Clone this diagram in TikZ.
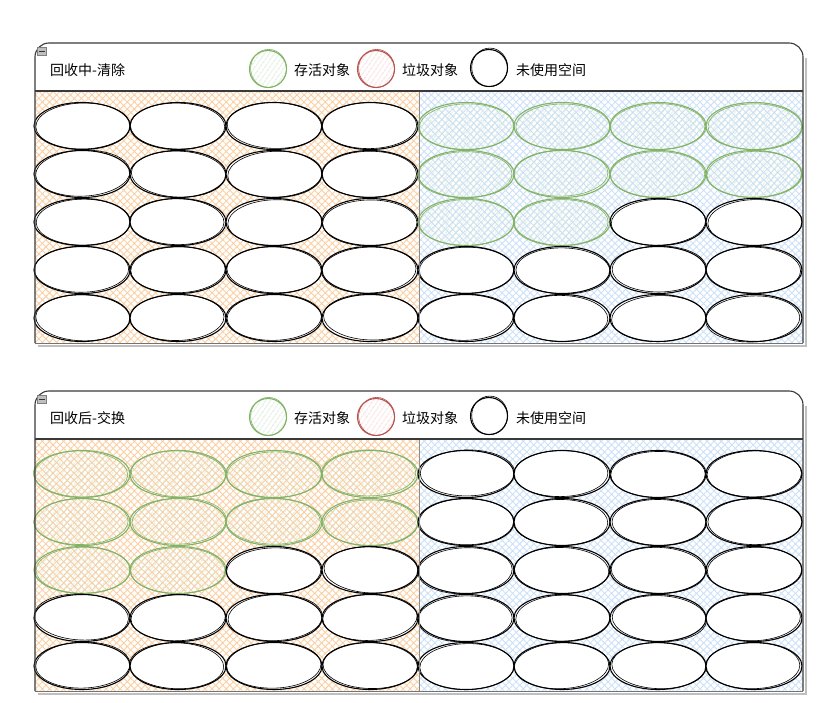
\documentclass[tikz,border=0pt]{standalone}
\usepackage{fontspec}
\setmainfont{Noto Sans CJK SC}
\usetikzlibrary{patterns.meta}

\definecolor{hatchorange}{HTML}{FCCFA2}
\definecolor{hatchblue}{HTML}{CDE1F9}
\definecolor{livegreen}{HTML}{82B366}
\definecolor{livehatch}{HTML}{C4DDBD}
\definecolor{garbred}{HTML}{B85450}
\definecolor{garbhatch}{HTML}{F3C4C2}
\definecolor{framegray}{HTML}{3A3A3A}

% one free slot: white ellipse with a doubled pen stroke
\newcommand\freecell[2]{%
  \pgfmathsetmacro\jx{rand*1.5}\pgfmathsetmacro\jy{rand*1.1}\pgfmathsetmacro\jr{rand*2.5}%
  \fill[white] (#1,#2) ellipse [x radius=48, y radius=23.5];
  \draw[penline] (#1,#2) ellipse [x radius=48, y radius=23.5];
  \draw[penline, line width=0.6pt, rotate around={\jr:(#1,#2)}] (#1+\jx,#2+\jy) ellipse [x radius=47.2, y radius=23];
}
% one live object: green outline, green hatching over the background
\newcommand\livecell[2]{%
  \pgfmathsetmacro\jx{rand*1.5}\pgfmathsetmacro\jy{rand*1.1}\pgfmathsetmacro\jr{rand*2.5}%
  \fill[pattern={Lines[angle=55,distance=4pt,line width=0.8pt]}, pattern color=livehatch] (#1,#2) ellipse [x radius=48, y radius=23.5];
  \draw[liveline] (#1,#2) ellipse [x radius=48, y radius=23.5];
  \draw[liveline, line width=0.6pt, rotate around={\jr:(#1,#2)}] (#1+\jx,#2+\jy) ellipse [x radius=47.2, y radius=23];
}

% one panel: #1 vertical shift, #2 title, #3 first column of the live half
\newcommand\gcpanel[3]{%
\begin{scope}[shift={(0,#1)}]
  % drop shadow
  \draw[black!25, line width=2.5pt] (806,58) -- (806,346) -- (38,346);
  % header
  \fill[white, rounded corners=14] (35,91) -- (35,43) -- (803,43) -- (803,91) -- cycle;
  % the two halves of the heap
  \fill[white] (35,91) rectangle (803,343);
  \fill[pattern={Hatch[angle=45,distance=5pt,line width=0.9pt]}, pattern color=hatchorange] (35,92) rectangle (419,343);
  \fill[pattern={Hatch[angle=45,distance=5pt,line width=0.9pt]}, pattern color=hatchblue] (419,92) rectangle (803,343);
  % heap slots
  \foreach \r in {0,...,4}{
    \foreach \c in {0,...,7}{
      \pgfmathsetmacro\cx{82+96*\c}
      \pgfmathsetmacro\cy{126+48*\r}
      \pgfmathtruncatemacro\lc{\c-#3}
      \pgfmathtruncatemacro\islive{(\lc>=0)&&(\lc<4)&&((\r<2)||((\r==2)&&(\lc<2)))}
      \ifnum\islive=1 \livecell{\cx}{\cy}\else\freecell{\cx}{\cy}\fi
    }
  }
  % divider and frame
  \draw[black!45, line width=0.7pt] (419,92) -- (419,343);
  \draw[black!55, line width=0.7pt] (35,343) -- (803,343);
  \draw[framegray, line width=1.1pt, rounded corners=14] (35,343) -- (35,43) -- (803,43) -- (803,343);
  \draw[framegray, line width=2pt] (35,91) -- (803,91);
  % collapse button
  \node[draw=black!50, fill=black!25, minimum width=9pt, minimum height=8pt, inner sep=0pt] (btn) at (42,51) {};
  \draw[black!80, line width=0.8pt] ([xshift=2pt]btn.west) -- ([xshift=-2pt]btn.east);
  % title
  \node[lbl] (title) at (50,70) {#2};
  % legend
  \fill[pattern={Lines[angle=55,distance=4pt,line width=0.8pt]}, pattern color=livehatch] (268,69) circle (18.5);
  \draw[liveline] (268,69) circle (18.5);
  \draw[liveline, line width=0.6pt] (268.6,68.4) ellipse [x radius=18, y radius=19];
  \node[lbl] (live) at (294,70) {存活对象};
  \fill[pattern={Lines[angle=55,distance=4pt,line width=0.8pt]}, pattern color=garbhatch] (376,69) circle (18.5);
  \draw[garbline] (376,69) circle (18.5);
  \draw[garbline, line width=0.6pt] (376.6,68.4) ellipse [x radius=18, y radius=19];
  \node[lbl] (garb) at (402,70) {垃圾对象};
  \draw[penline] (489,68) circle (18.5);
  \draw[penline, line width=0.6pt] (489.7,67.4) ellipse [x radius=18, y radius=19.3];
  \node[lbl] (free) at (516,70) {未使用空间};
\end{scope}}

\begin{document}
\begin{tikzpicture}[x=1pt, y=-1pt,
  penline/.style={draw=black, line width=1.1pt},
  liveline/.style={draw=livegreen, line width=1.1pt},
  garbline/.style={draw=garbred, line width=1.1pt},
  lbl/.style={anchor=west, inner sep=0pt, font=\fontsize{14}{16}\selectfont}]
\useasboundingbox (0,0) rectangle (832,703);
\pgfmathsetseed{11}
\gcpanel{0}{回收中-清除}{4}
\gcpanel{348}{回收后-交换}{0}
\end{tikzpicture}
\end{document}
